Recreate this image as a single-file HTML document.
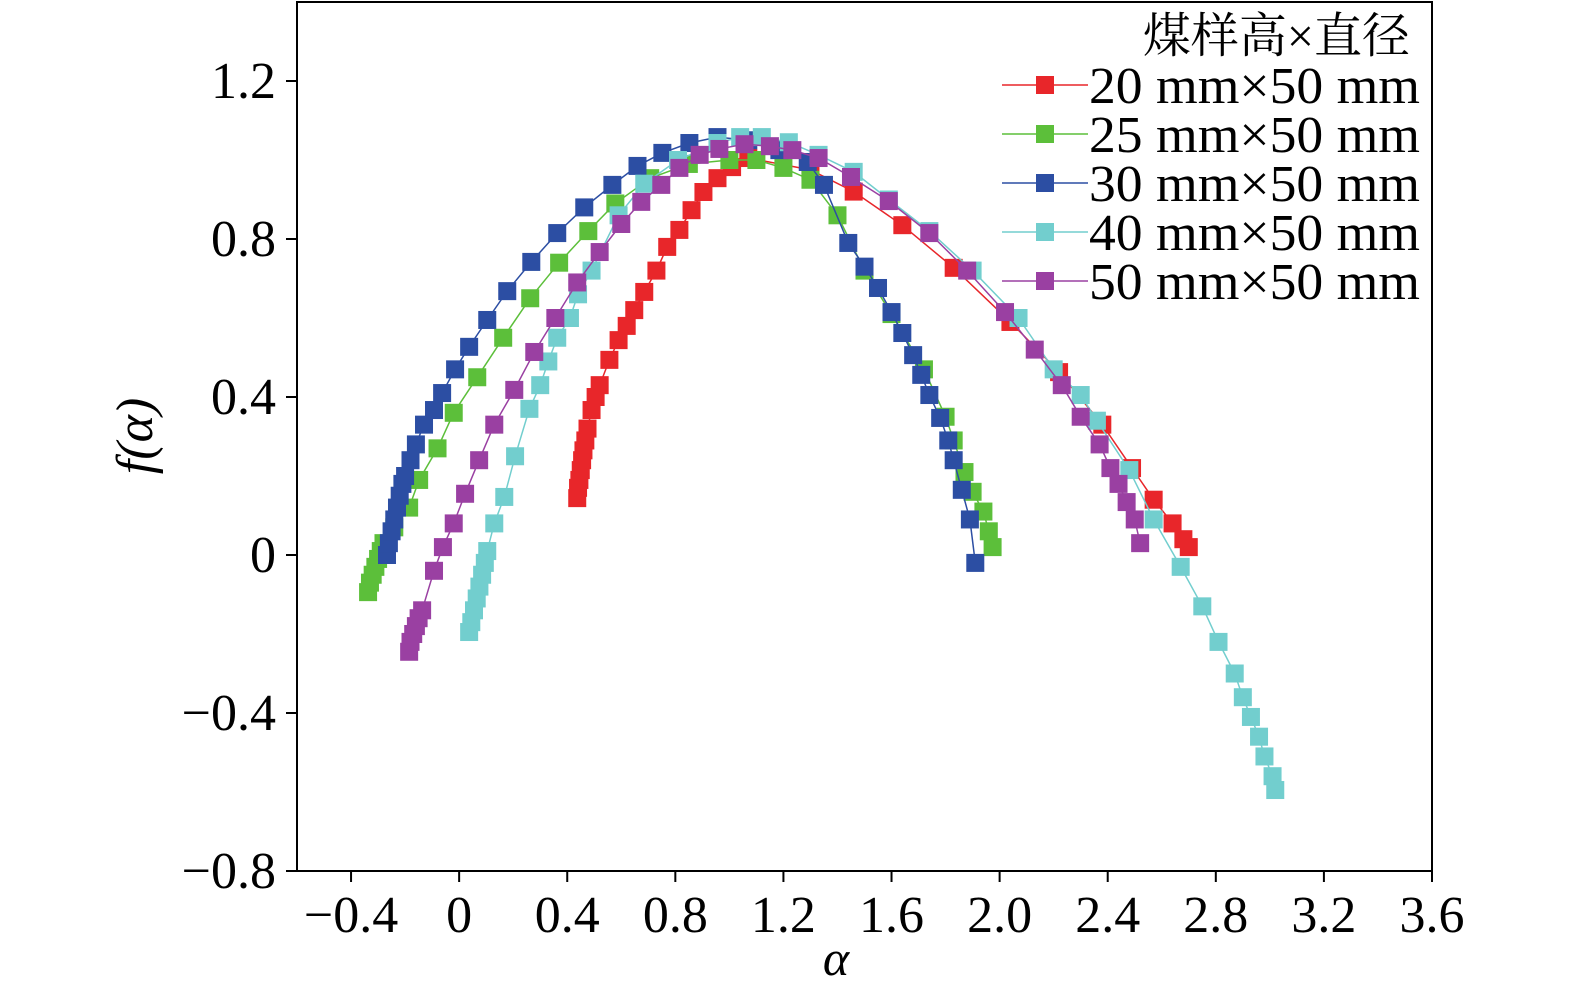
<!DOCTYPE html>
<html><head><meta charset="utf-8"><style>
body{margin:0;background:#fff}
svg text{font-family:"Liberation Serif","Noto Serif CJK SC",serif}
</style></head><body>
<svg id="chart" width="1575" height="996" xmlns="http://www.w3.org/2000/svg">
<g id="plot"></g>
</svg>
<script>
const xTicks=[-0.4,0,0.4,0.8,1.2,1.6,2.0,2.4,2.8,3.2,3.6];
const xTickLabels=["\u22120.4","0","0.4","0.8","1.2","1.6","2.0","2.4","2.8","3.2","3.6"];
const yTicks=[-0.8,-0.4,0,0.4,0.8,1.2];
const yTickLabels=["\u22120.8","\u22120.4","0","0.4","0.8","1.2"];
const seriesNames=["20 mm\u00d750 mm","25 mm\u00d750 mm","30 mm\u00d750 mm","40 mm\u00d750 mm","50 mm\u00d750 mm"];
const alpha20=[0.437,0.44,0.445,0.45,0.455,0.46,0.467,0.475,0.49,0.505,0.52,0.556,0.59,0.62,0.648,0.685,0.73,0.77,0.815,0.86,0.904,0.956,1.01,1.07,1.3,1.46,1.64,1.83,2.04,2.22,2.38,2.49,2.57,2.64,2.68,2.7];
const f20=[0.144,0.17,0.19,0.215,0.24,0.265,0.29,0.32,0.367,0.4,0.43,0.494,0.544,0.58,0.62,0.666,0.72,0.78,0.823,0.873,0.919,0.954,0.982,1.005,0.975,0.92,0.835,0.727,0.59,0.463,0.33,0.22,0.14,0.08,0.04,0.02];
const alpha25=[-0.337,-0.33,-0.32,-0.31,-0.3,-0.29,-0.28,-0.24,-0.185,-0.148,-0.08,-0.02,0.067,0.163,0.263,0.37,0.478,0.578,0.707,0.85,1.0,1.1,1.2,1.3,1.4,1.5,1.6,1.72,1.8,1.83,1.87,1.9,1.94,1.96,1.974];
const f25=[-0.094,-0.07,-0.05,-0.03,-0.01,0.01,0.03,0.07,0.12,0.19,0.27,0.36,0.45,0.55,0.65,0.74,0.82,0.89,0.954,0.99,1.0,1.0,0.98,0.95,0.86,0.72,0.61,0.47,0.35,0.29,0.21,0.16,0.11,0.06,0.02];
const alpha30=[-0.267,-0.26,-0.25,-0.24,-0.23,-0.22,-0.21,-0.2,-0.18,-0.16,-0.13,-0.093,-0.063,-0.015,0.037,0.104,0.178,0.267,0.363,0.463,0.567,0.66,0.752,0.852,0.956,1.07,1.185,1.29,1.35,1.44,1.5,1.55,1.6,1.64,1.68,1.71,1.74,1.78,1.81,1.83,1.86,1.89,1.91];
const f30=[0.0,0.03,0.06,0.09,0.12,0.15,0.18,0.2,0.24,0.28,0.33,0.367,0.41,0.47,0.527,0.595,0.668,0.742,0.815,0.88,0.937,0.985,1.018,1.043,1.058,1.05,1.025,0.995,0.937,0.79,0.73,0.676,0.615,0.562,0.506,0.456,0.405,0.347,0.29,0.24,0.165,0.09,-0.02];
const alpha40=[0.037,0.045,0.055,0.065,0.075,0.085,0.095,0.104,0.13,0.167,0.207,0.26,0.3,0.33,0.363,0.41,0.44,0.49,0.59,0.685,0.81,0.956,1.04,1.12,1.22,1.33,1.46,1.59,1.74,1.9,2.07,2.2,2.3,2.36,2.48,2.57,2.67,2.75,2.81,2.87,2.9,2.93,2.96,2.98,3.01,3.02];
const f40=[-0.195,-0.17,-0.14,-0.11,-0.08,-0.05,-0.02,0.01,0.08,0.147,0.25,0.37,0.43,0.49,0.55,0.6,0.66,0.72,0.86,0.94,1.0,1.043,1.058,1.058,1.045,1.013,0.97,0.9,0.82,0.72,0.6,0.47,0.405,0.34,0.215,0.09,-0.03,-0.13,-0.22,-0.3,-0.36,-0.41,-0.46,-0.51,-0.56,-0.595];
const alpha50=[-0.185,-0.18,-0.17,-0.16,-0.15,-0.137,-0.093,-0.06,-0.02,0.022,0.074,0.13,0.204,0.278,0.356,0.437,0.52,0.6,0.674,0.748,0.815,0.89,0.963,1.056,1.15,1.233,1.33,1.45,1.59,1.74,1.88,2.02,2.13,2.23,2.3,2.37,2.41,2.44,2.47,2.5,2.52];
const f50=[-0.245,-0.22,-0.2,-0.18,-0.16,-0.14,-0.04,0.02,0.08,0.155,0.24,0.33,0.418,0.514,0.6,0.69,0.767,0.838,0.894,0.937,0.98,1.013,1.028,1.04,1.035,1.025,1.005,0.957,0.896,0.815,0.72,0.615,0.52,0.43,0.35,0.28,0.22,0.18,0.134,0.09,0.03];
const seriesAlpha=[alpha20,alpha25,alpha30,alpha40,alpha50];
const seriesF=[f20,f25,f30,f40,f50];
const colors=["#e8262a","#5cbf3a","#2c4ea3","#72cece","#9a40a2"];

const NS="http://www.w3.org/2000/svg";
const L=297,R=1432,T=2,B=871,xmin=-0.6,xmax=3.6,ymin=-0.8,ymax=1.4;
const X=v=>L+(v-xmin)/(xmax-xmin)*(R-L);
const Y=v=>B-(v-ymin)/(ymax-ymin)*(B-T);
const svg=document.getElementById('chart');
function mk(tag,attrs,parent){const e=document.createElementNS(NS,tag);for(const k in attrs)e.setAttribute(k,attrs[k]);(parent||svg).appendChild(e);return e;}
const plot=document.getElementById('plot');
seriesAlpha.forEach((xs,i)=>{
  const g=mk('g',{},plot);
  
  
  const pts=xs.map((a,j)=>X(a).toFixed(1)+','+Y(seriesF[i][j]).toFixed(1)).join(' ');
  const pl=mk('polyline',{points:pts,fill:'none',stroke:colors[i],'stroke-width':1.5},g);
  
  
  xs.forEach((a,j)=>{
    const r=mk('rect',{x:X(a)-9,y:Y(seriesF[i][j])-9,width:18,height:18,fill:colors[i]},g);
    
    
  });
});
const fr=mk('rect',{x:L,y:T,width:R-L,height:B-T,fill:'none',stroke:'#000','stroke-width':2});


xTicks.forEach((v,i)=>{
  const t=mk('line',{x1:X(v),x2:X(v),y1:B,y2:B+11,stroke:'#000','stroke-width':2});
  
  
  const tx=mk('text',{x:X(v),y:932,'font-size':52,'text-anchor':'middle'});
  tx.textContent=xTickLabels[i];
  
  
});
yTicks.forEach((v,i)=>{
  const t=mk('line',{x1:L-11,x2:L,y1:Y(v),y2:Y(v),stroke:'#000','stroke-width':2});
  
  
  const tx=mk('text',{x:276,y:Y(v)+17,'font-size':52,'text-anchor':'end'});
  tx.textContent=yTickLabels[i];
  
  
});
const xl=mk('text',{x:836,y:975,'font-size':50,'font-style':'italic','text-anchor':'middle'});
xl.textContent='α';


const yl=mk('text',{x:0,y:0,'font-size':52,'font-style':'italic','text-anchor':'middle',transform:'translate(152,436) rotate(-90)'});
yl.textContent='f(α)';


const lg=mk('g',{});


const lt=mk('text',{x:1410,y:52,'font-size':48,'text-anchor':'end'},lg);
lt.textContent='煤样高×直径';


seriesNames.forEach((n,i)=>{
  const y=85+i*49;
  const e=mk('g',{},lg);
  
  
  mk('line',{x1:1002,x2:1088,y1:y,y2:y,stroke:colors[i],'stroke-width':1.5},e);
  mk('rect',{x:1036,y:y-9,width:18,height:18,fill:colors[i]},e);
  const t=mk('text',{x:1089,y:y+18,'font-size':52,textLength:331,lengthAdjust:'spacingAndGlyphs'},e);
  t.textContent=n;
});
</script>
</body></html>
